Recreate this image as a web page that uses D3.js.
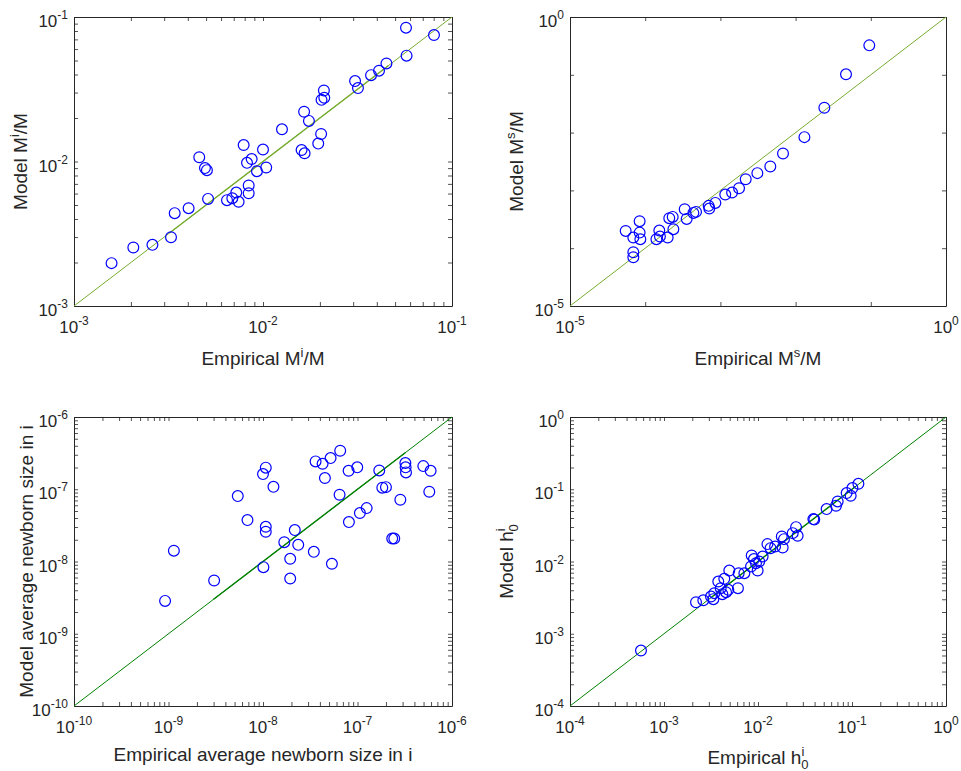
<!DOCTYPE html>
<html lang="en">
<head>
    <meta charset="UTF-8">
    <title>Model vs empirical</title>
    <script src="https://d3js.org/d3.v7.min.js"></script>
    <style>
        body { margin: 0; background: #fff; }
        text { font-family: "Liberation Sans", Arial, Helvetica, sans-serif; fill: #262626; }
    </style>
</head>
<body>
    <svg width="961" height="771" id="chart"></svg>

    <script>
        // Data
        const miEmpirical = [1.58e-3, 2.06e-3, 2.60e-3, 3.26e-3, 3.41e-3, 4.04e-3, 4.60e-3, 4.93e-3, 5.05e-3, 5.12e-3,
            6.45e-3, 6.88e-3, 7.22e-3, 7.43e-3, 7.90e-3, 8.23e-3, 8.71e-3, 8.40e-3, 8.40e-3, 9.29e-3,
            1.00e-2, 1.04e-2, 1.26e-2, 1.60e-2, 1.66e-2, 1.65e-2, 1.75e-2, 1.96e-2, 2.03e-2, 2.04e-2,
            2.10e-2, 2.11e-2, 3.07e-2, 3.18e-2, 3.73e-2, 4.11e-2, 4.50e-2, 5.71e-2, 5.75e-2, 8.03e-2];
        const miModel = [1.98e-3, 2.54e-3, 2.65e-3, 2.99e-3, 4.39e-3, 4.75e-3, 1.07e-2, 9.00e-3, 8.71e-3, 5.51e-3,
            5.40e-3, 5.57e-3, 6.10e-3, 5.26e-3, 1.30e-2, 9.79e-3, 1.04e-2, 6.82e-3, 6.03e-3, 8.57e-3,
            1.21e-2, 9.09e-3, 1.67e-2, 1.20e-2, 1.14e-2, 2.21e-2, 1.91e-2, 1.33e-2, 1.55e-2, 2.67e-2,
            3.10e-2, 2.76e-2, 3.60e-2, 3.22e-2, 3.96e-2, 4.25e-2, 4.77e-2, 8.43e-2, 5.40e-2, 7.50e-2];

        const msEmpirical = [5.50e-5, 6.95e-5, 6.95e-5, 6.95e-5, 8.43e-5, 8.43e-5, 8.62e-5, 1.41e-4, 1.54e-4, 1.57e-4,
            1.99e-4, 2.09e-4, 2.32e-4, 2.37e-4, 3.35e-4, 3.56e-4, 4.37e-4, 4.74e-4, 6.98e-4, 7.12e-4,
            8.57e-4, 1.16e-3, 1.43e-3, 1.77e-3, 2.17e-3, 3.10e-3, 4.61e-3, 6.80e-3, 1.31e-2, 2.41e-2,
            4.68e-2, 9.55e-2];
        const msModel = [1.99e-4, 1.53e-4, 8.51e-5, 6.97e-5, 2.93e-4, 1.86e-4, 1.43e-4, 1.43e-4, 2.02e-4, 1.59e-4,
            1.53e-4, 3.30e-4, 3.48e-4, 2.13e-4, 4.72e-4, 3.21e-4, 4.08e-4, 4.25e-4, 5.40e-4, 4.85e-4,
            6.08e-4, 8.48e-4, 9.19e-4, 1.09e-3, 1.56e-3, 1.99e-3, 2.59e-3, 4.35e-3, 8.35e-3, 2.69e-2,
            1.02e-1, 3.23e-1];

        const newbornEmpirical = [9.2e-10, 1.14e-9, 3.04e-9, 5.41e-9, 6.85e-9, 1.00e-8, 1.07e-8, 1.01e-8, 1.07e-8, 1.07e-8,
            1.29e-8, 1.68e-8, 1.94e-8, 1.94e-8, 2.17e-8, 2.36e-8, 3.45e-8, 3.60e-8, 4.27e-8, 4.52e-8,
            5.19e-8, 5.36e-8, 6.56e-8, 6.46e-8, 8.05e-8, 8.11e-8, 9.94e-8, 1.06e-7, 1.25e-7, 1.70e-7,
            1.83e-7, 2.00e-7, 2.33e-7, 2.45e-7, 2.84e-7, 3.21e-7, 3.23e-7, 3.26e-7, 4.97e-7, 5.75e-7, 5.94e-7];
        const newbornModel = [2.85e-9, 1.41e-8, 5.46e-9, 8.04e-8, 3.74e-8, 1.62e-7, 1.99e-7, 8.35e-9, 3.02e-8, 2.58e-8,
            1.08e-7, 1.85e-8, 1.09e-8, 5.81e-9, 2.72e-8, 1.70e-8, 1.36e-8, 2.43e-7, 2.25e-7, 1.43e-7,
            2.70e-7, 9.29e-9, 3.41e-7, 8.39e-8, 1.80e-7, 3.51e-8, 2.01e-7, 4.68e-8, 5.48e-8, 1.82e-7,
            1.05e-7, 1.07e-7, 2.08e-8, 2.08e-8, 7.16e-8, 2.30e-7, 2.01e-7, 1.71e-7, 2.09e-7, 9.23e-8, 1.80e-7];

        const h0Empirical = [5.69e-4, 2.19e-3, 2.62e-3, 3.16e-3, 3.35e-3, 3.43e-3, 3.78e-3, 4.01e-3, 4.18e-3, 4.38e-3,
            4.57e-3, 4.83e-3, 4.95e-3, 6.12e-3, 6.23e-3, 7.16e-3, 8.43e-3, 8.57e-3, 9.06e-3, 9.52e-3,
            9.91e-3, 1.03e-2, 1.12e-2, 1.26e-2, 1.36e-2, 1.52e-2, 1.79e-2, 1.83e-2, 1.89e-2, 2.34e-2,
            2.54e-2, 2.64e-2, 3.88e-2, 3.97e-2, 5.37e-2, 6.76e-2, 7.04e-2, 8.77e-2, 9.68e-2, 1.01e-1, 1.17e-1];
        const h0Model = [5.85e-4, 2.73e-3, 2.91e-3, 3.27e-3, 3.01e-3, 3.64e-3, 5.28e-3, 4.27e-3, 3.53e-3, 5.75e-3,
            3.76e-3, 4.05e-3, 7.50e-3, 4.27e-3, 6.89e-3, 6.89e-3, 8.53e-3, 1.21e-2, 1.08e-2, 9.48e-3,
            7.50e-3, 1.00e-2, 1.17e-2, 1.74e-2, 1.53e-2, 1.61e-2, 2.22e-2, 1.56e-2, 2.04e-2, 2.47e-2,
            2.99e-2, 2.27e-2, 3.86e-2, 3.80e-2, 5.31e-2, 5.91e-2, 6.78e-2, 8.85e-2, 8.13e-2, 1.04e-1, 1.19e-1];

        // Axis limits (decade exponents) and labelled decades
        const miDecades = [-3, -2, -1];
        const msDecades = [-5, -4, -3, -2, -1, 0];
        const msLabels = [-5, 0];
        const newbornDecades = [-10, -9, -8, -7, -6];
        const h0Decades = [-4, -3, -2, -1, 0];

        // Range over which the reference line is drawn a second time
        const miFit = [3.2e-3, 4.6e-2];
        const newbornFit = [3.0e-9, 3.2e-7];
        const h0Fit = [3.2e-3, 1.1e-1];

        const svg = d3.select("#chart");
        const boxColor = "#262626";

        function drawPanel(p) {
            const lo = Math.pow(10, p.decades[0]);
            const hi = Math.pow(10, p.decades[p.decades.length - 1]);
            const x = d3.scaleLog().domain([lo, hi]).range([p.left, p.right]);
            const y = d3.scaleLog().domain([lo, hi]).range([p.bottom, p.top]);

            // tick positions: decades, plus 2..9 multiples when minor ticks are on
            let tickVals = p.decades.map(e => Math.pow(10, e));
            if (p.minor) {
                tickVals = [];
                p.decades.forEach((e, i) => {
                    const n = i === p.decades.length - 1 ? 1 : 9;
                    for (let k = 1; k <= n; k++) tickVals.push(k * Math.pow(10, e));
                });
            }

            const g = svg.append("g").attr("color", boxColor);
            const mk = (axis, scale) => axis(scale).tickValues(tickVals).tickSizeInner(-4).tickSizeOuter(0).tickFormat("");

            g.append("g").attr("transform", `translate(0,${p.bottom})`).call(mk(d3.axisBottom, x));
            g.append("g").attr("transform", `translate(0,${p.top})`).call(mk(d3.axisTop, x));
            g.append("g").attr("transform", `translate(${p.left},0)`).call(mk(d3.axisLeft, y));
            g.append("g").attr("transform", `translate(${p.right},0)`).call(mk(d3.axisRight, y));
            g.selectAll("path.domain").attr("stroke-width", 1);
            g.selectAll(".tick line").attr("stroke-width", 0.8);

            // tick labels 10^e
            const labels = p.labels || p.decades;
            labels.forEach(e => {
                const v = Math.pow(10, e);
                const tx = svg.append("text")
                    .attr("x", x(v))
                    .attr("y", p.bottom + 27)
                    .attr("text-anchor", "middle")
                    .style("font-size", "17px");
                tx.append("tspan").text("10");
                tx.append("tspan").attr("dy", -8).style("font-size", "12px").text(e < 0 ? "-" + (-e) : e);

                const ty = svg.append("text")
                    .attr("x", p.left - 6)
                    .attr("y", y(v) + 10)
                    .attr("text-anchor", "end")
                    .style("font-size", "17px");
                ty.append("tspan").text("10");
                ty.append("tspan").attr("dy", -8).style("font-size", "12px").text(e < 0 ? "-" + (-e) : e);
            });

            // y = x reference line
            const line = d3.line().x(d => x(d)).y(d => y(d));
            svg.append("path")
                .attr("d", line([lo, hi]))
                .attr("stroke", p.lineColor)
                .attr("stroke-width", 1)
                .attr("fill", "none");
            if (p.fit) {
                svg.append("path")
                    .attr("d", line(p.fit))
                    .attr("stroke", p.lineColor)
                    .attr("stroke-width", 1.4)
                    .attr("fill", "none");
            }

            // data circles
            svg.append("g").selectAll("circle")
                .data(p.xs.map((v, i) => [v, p.ys[i]]))
                .join("circle")
                .attr("cx", d => x(d[0]))
                .attr("cy", d => y(d[1]))
                .attr("r", 5.4)
                .attr("fill", "none")
                .attr("stroke", "#0000ff")
                .attr("stroke-width", 1.2);

            // axis titles
            const xl = svg.append("text")
                .attr("x", (p.left + p.right) / 2)
                .attr("y", p.xLabelY)
                .attr("text-anchor", "middle")
                .style("font-size", "19px");
            p.xLabel(xl);

            const yl = svg.append("text")
                .attr("transform", `translate(${p.yLabelX},${(p.top + p.bottom) / 2}) rotate(-90)`)
                .attr("text-anchor", "middle")
                .style("font-size", "19px");
            p.yLabel(yl);
        }

        // label builders with super/subscripts
        const withSup = (base, sup, tail) => t => {
            t.append("tspan").text(base);
            t.append("tspan").attr("dy", -8).style("font-size", "13px").text(sup);
            t.append("tspan").attr("dy", 8).text(tail);
        };
        const withSupSub = (base, sup, sub) => t => {
            t.append("tspan").text(base);
            t.append("tspan").attr("dy", -8).style("font-size", "13px").text(sup);
            t.append("tspan").attr("dx", -3).attr("dy", 13).style("font-size", "13px").text(sub);
        };

        drawPanel({
            left: 74, right: 452, top: 17, bottom: 306,
            decades: miDecades, minor: true,
            xs: miEmpirical, ys: miModel,
            lineColor: "#77ac30", fit: miFit,
            xLabelY: 365, yLabelX: 27,
            xLabel: withSup("Empirical M", "i", "/M"),
            yLabel: withSup("Model M", "i", "/M")
        });

        drawPanel({
            left: 570, right: 946, top: 17, bottom: 306,
            decades: msDecades, labels: msLabels, minor: false,
            xs: msEmpirical, ys: msModel,
            lineColor: "#77ac30", fit: null,
            xLabelY: 365, yLabelX: 523,
            xLabel: withSup("Empirical M", "s", "/M"),
            yLabel: withSup("Model M", "s", "/M")
        });

        drawPanel({
            left: 74, right: 452, top: 417, bottom: 706,
            decades: newbornDecades, minor: true,
            xs: newbornEmpirical, ys: newbornModel,
            lineColor: "#008000", fit: newbornFit,
            xLabelY: 761, yLabelX: 33,
            xLabel: t => t.text("Empirical average newborn size in i"),
            yLabel: t => t.text("Model average newborn size in i")
        });

        drawPanel({
            left: 570, right: 946, top: 417, bottom: 706,
            decades: h0Decades, minor: true,
            xs: h0Empirical, ys: h0Model,
            lineColor: "#008000", fit: h0Fit,
            xLabelY: 764, yLabelX: 513,
            xLabel: withSupSub("Empirical h", "i", "0"),
            yLabel: withSupSub("Model h", "i", "0")
        });
    </script>
</body>
</html>
